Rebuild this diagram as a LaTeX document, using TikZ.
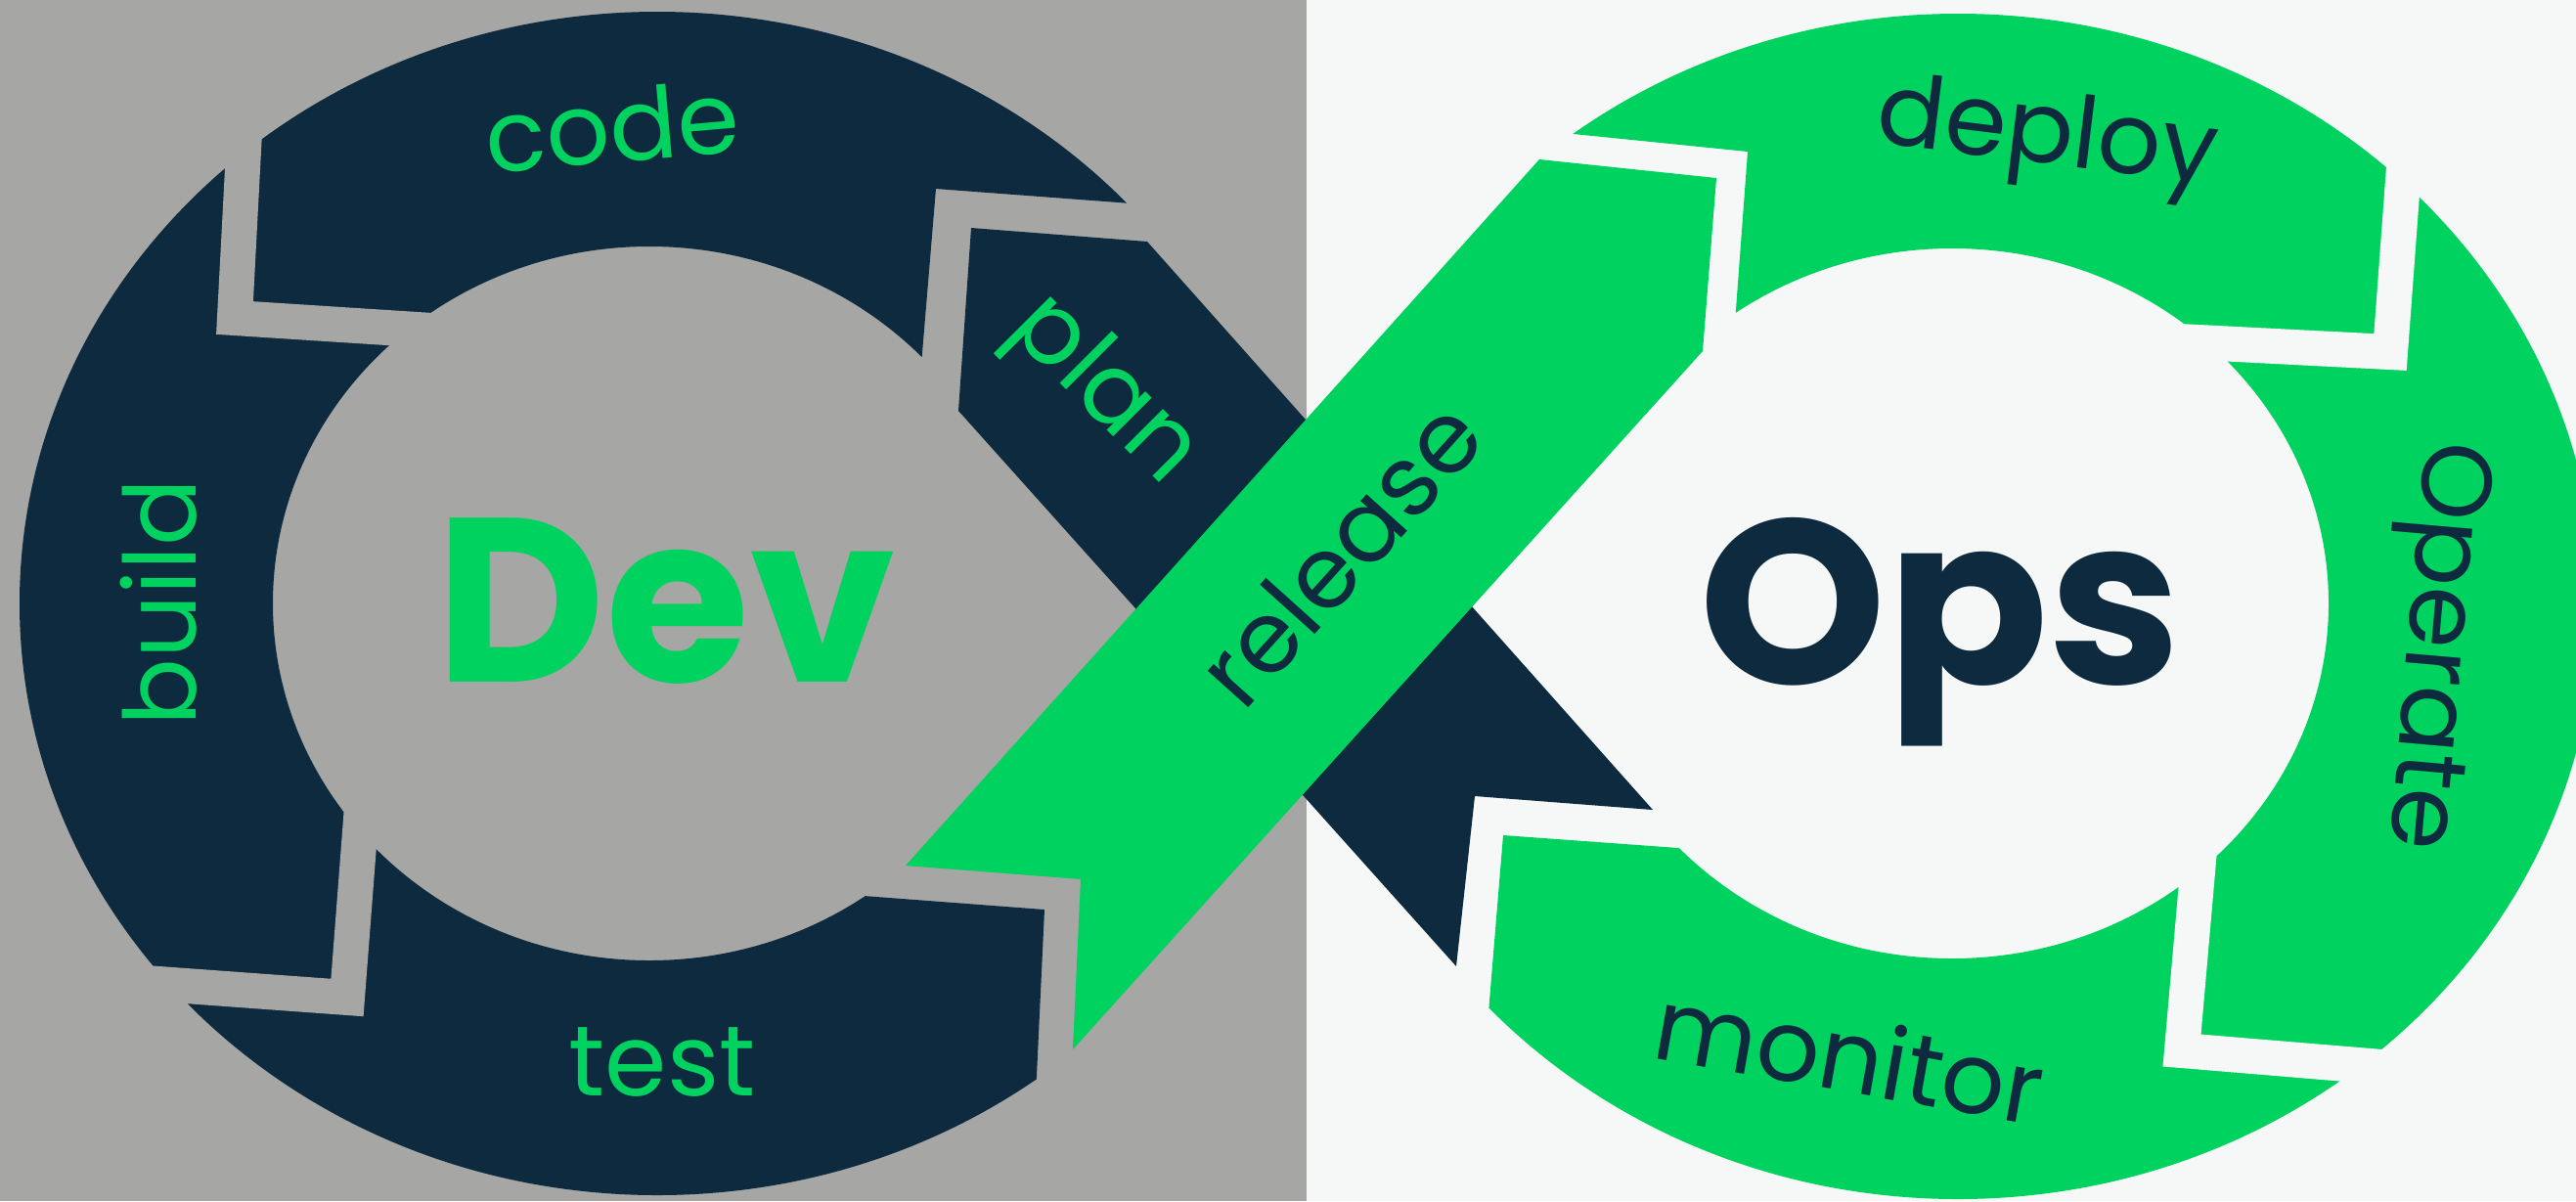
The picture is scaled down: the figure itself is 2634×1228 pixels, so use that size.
\documentclass[tikz,border=0pt]{standalone}
\usepackage{fontspec}
\setmainfont{Poppins}
\definecolor{navy}{HTML}{0E2A3F}
\definecolor{leaf}{HTML}{00D25F}
\definecolor{devbg}{HTML}{A6A6A4}
\definecolor{opsbg}{HTML}{F5F8F7}
\tikzset{
  lbl/.style={font=\fontsize{29}{29}\selectfont, inner sep=0pt, anchor=base},
  devlbl/.style={lbl, text=leaf},
  opslbl/.style={lbl, text=navy},
  title/.style={font=\fontsize{68}{68}\selectfont\bfseries, inner sep=0pt, anchor=base},
  gap/.style={line width=3.6mm, line join=miter}
}
\begin{document}
\begin{tikzpicture}[x=0.1mm,y=-0.1mm]
                \useasboundingbox (0,0) rectangle (2634,1228);
                \clip (0,0) rectangle (2634,1228);

                % Drawing the two backgrounds
                \fill [devbg] (0,0) rectangle (1336,1228);%
                \fill [opsbg] (1336,0) rectangle (2634,1228);%

                % Drawing ring Dev (code, build, test)
                \begin{scope}
                \clip (-50,-50) -- (1250,-50) -- (1250,215) -- (957,193) -- (942,373) -- (883,916) -- (1068,930) -- (1060,1100) -- (1051,1300) -- (-50,1300) -- cycle;
                \fill [navy, even odd rule] (672,617) ellipse [x radius=652, y radius=605] (664,617) ellipse [x radius=385, y radius=365];%
                \end{scope}

                % Drawing ring Ops (deploy, Operate, monitor)
                \begin{scope}
                \clip (2700,-50) -- (1500,-50) -- (1500,126) -- (1787,155) -- (1774,330) -- (1730,868) -- (1537,854) -- (1515,1120) -- (1515,1300) -- (2700,1300) -- cycle;
                \fill [leaf, even odd rule] (2002,620) ellipse [x radius=652, y radius=606] (1996,617) ellipse [x radius=385, y radius=363];%
                \end{scope}

                % Cutting gaps code/build and build/test
                \draw [gap, devbg] (255,40) -- (240,325) -- (520,343);%
                \draw [gap, devbg] (80,1000) -- (355,1020) -- (375,760);%

                % Cutting gaps deploy/Operate and Operate/monitor
                \draw [gap, opsbg] (2464,90) -- (2444,360) -- (2150,345);%
                \draw [gap, opsbg] (2255,800) -- (2231,1074) -- (2520,1098);%

                % Drawing band plan
                \fill [navy] (993,233) -- (1173,247) -- (1690,828) -- (1508,814) -- (1489,988) -- (980,420) -- cycle;%

                % Drawing band release
                \fill [leaf] (926,885) -- (1574,163) -- (1755,182) -- (1741,359) -- (1097,1073) -- (1105,899) -- cycle;%

                % Marking segments of Dev
                \node [devlbl, rotate=5] (code) at (629,166) {code};%
                \node [devlbl, rotate=90] (build) at (200,616) {build};%
                \node [devlbl] (test) at (677,1120) {test};%
                \node [devlbl, rotate=-45] (plan) at (1110,418) {plan};%

                % Marking segments of Ops
                \node [opslbl, rotate=48] (release) at (1397,590) {release};%
                \node [opslbl, rotate=-7] (deploy) at (2090,167) {deploy};%
                \node [opslbl, rotate=-95] (operate) at (2462,658) {Operate};%
                \node [opslbl, rotate=-10] (monitor) at (1885,1116) {monitor};%

                % Marking the two titles
                \node [title, text=leaf] (dev) at (681,697) {Dev};%
                \node [title, text=navy, xscale=1.02] (ops) at (1984,699) {Ops};%
\end{tikzpicture}
\end{document}
